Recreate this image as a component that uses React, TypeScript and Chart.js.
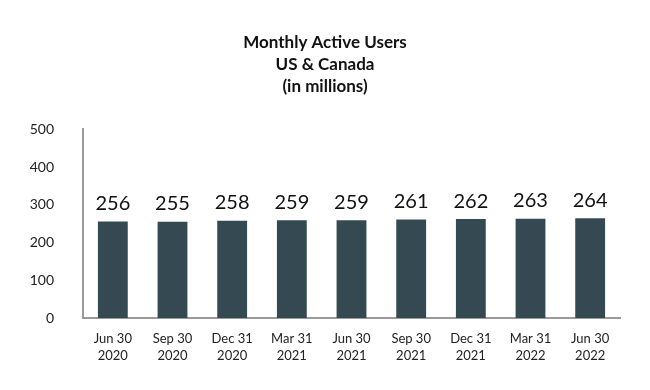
import React, { useEffect, useRef } from "react";
import { Chart, registerables } from "chart.js";

Chart.register(...registerables);

const categories: string[][] = [
  ["Jun 30", "2020"],
  ["Sep 30", "2020"],
  ["Dec 31", "2020"],
  ["Mar 31", "2021"],
  ["Jun 30", "2021"],
  ["Sep 30", "2021"],
  ["Dec 31", "2021"],
  ["Mar 31", "2022"],
  ["Jun 30", "2022"],
];
const users: number[] = [256, 255, 258, 259, 259, 261, 262, 263, 264];
const titleLines: string[] = ["Monthly Active Users", "US & Canada", "(in millions)"];
const yMin = 0;
const yMax = 500;
const yStep = 100;

const FONT = "Lato, 'Open Sans', sans-serif";

const valueLabels = {
  id: "valueLabels",
  afterDatasetsDraw(chart: any) {
    const ctx = chart.ctx;
    const meta = chart.getDatasetMeta(0);
    ctx.save();
    ctx.font = `20px ${FONT}`;
    ctx.fillStyle = "#111111";
    ctx.textAlign = "center";
    ctx.textBaseline = "bottom";
    meta.data.forEach((bar: any, i: number) => {
      ctx.fillText(String(chart.data.datasets[0].data[i]), bar.x, bar.y - 8);
    });
    ctx.restore();
  },
};

export default function App() {
  const ref = useRef<HTMLCanvasElement | null>(null);
  useEffect(() => {
    if (!ref.current) return;
    const chart = new Chart(ref.current, {
      type: "bar",
      data: {
        labels: categories,
        datasets: [
          {
            data: users,
            backgroundColor: "#354952",
            categoryPercentage: 1,
            barPercentage: 0.5,
          },
        ],
      },
      plugins: [valueLabels],
      options: {
        animation: false,
        responsive: false,
        maintainAspectRatio: false,
        layout: { padding: { left: 0, right: 0, top: 0, bottom: 0 } },
        plugins: {
          legend: { display: false },
          tooltip: { enabled: false },
          title: {
            display: true,
            text: titleLines,
            color: "#111111",
            font: { family: FONT, size: 17, weight: "bold", lineHeight: 1.3 },
            padding: { top: 31, bottom: 32 },
          },
        },
        scales: {
          x: {
            grid: { display: false, drawTicks: false },
            border: { display: true, color: "#9a9a9a", width: 2 },
            ticks: {
              color: "#222222",
              font: { family: FONT, size: 13, lineHeight: 1.25 },
              padding: 13,
              maxRotation: 0,
              autoSkip: false,
            },
            afterFit: (scale: any) => {
              scale.height = 72;
            },
          },
          y: {
            min: yMin,
            max: yMax,
            grid: { display: false, drawTicks: false },
            border: { display: true, color: "#9a9a9a", width: 2 },
            ticks: {
              stepSize: yStep,
              color: "#222222",
              font: { family: FONT, size: 14 },
              padding: 29,
            },
            afterFit: (scale: any) => {
              scale.width = 83;
            },
          },
          spacer: {
            type: "linear",
            position: "right",
            display: true,
            grid: { display: false, drawTicks: false },
            border: { display: false },
            ticks: { display: false },
            afterFit: (scale: any) => {
              scale.width = 30;
            },
          },
        },
      },
    });
    return () => chart.destroy();
  }, []);
  return (
    <div style={{ position: "fixed", left: 0, top: 0, width: 650, height: 390, background: "#ffffff" }}>
      <canvas ref={ref} width={650} height={390} style={{ width: 650, height: 390 }} />
    </div>
  );
}
